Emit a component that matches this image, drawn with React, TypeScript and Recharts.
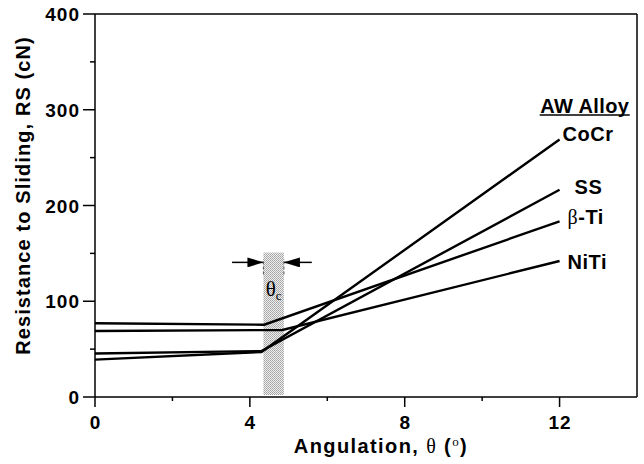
import React from "react";
import {
  LineChart,
  Line,
  XAxis,
  YAxis,
  ReferenceArea,
  ReferenceLine,
  ReferenceDot,
} from "recharts";

// angulation (deg) and resistance to sliding (cN) for each archwire alloy
const alloyNames = ["CoCr", "SS", "β-Ti", "NiTi"];
const coCrAngle = [0, 4.3, 12];
const coCrRS = [39, 47, 269];
const ssAngle = [0, 4.3, 12];
const ssRS = [45.5, 48, 216.5];
const betaTiAngle = [0, 4.37, 12];
const betaTiRS = [77, 75.5, 183.5];
const niTiAngle = [0, 4.84, 12];
const niTiRS = [69, 70, 142];

// critical angle band
const thetaCLow = 4.35;
const thetaCHigh = 4.88;
const bandTop = 151;

const xTicks = [0, 2, 4, 6, 8, 10, 12];
const xLabelled = [0, 4, 8, 12];
const yTicks = [0, 50, 100, 150, 200, 250, 300, 350, 400];
const yLabelled = [0, 100, 200, 300, 400];

const FONT = '"Liberation Sans", Arial, Helvetica, sans-serif';
const SERIF = '"Liberation Serif", "DejaVu Serif", serif';

const toPoints = (xs: number[], ys: number[]) =>
  xs.map((a, i) => ({ angle: a, rs: ys[i] }));

const series = [
  { name: alloyNames[0], data: toPoints(coCrAngle, coCrRS), dx: 3, dy: -5 },
  { name: alloyNames[1], data: toPoints(ssAngle, ssRS), dx: 15, dy: -3 },
  { name: alloyNames[2], data: toPoints(betaTiAngle, betaTiRS), dx: 8, dy: -4 },
  { name: alloyNames[3], data: toPoints(niTiAngle, niTiRS), dx: 8, dy: 1 },
];

const YTick = (props: any) => {
  const { x, y, payload } = props;
  const major = yLabelled.includes(payload.value);
  return (
    <g>
      <line x1={x} x2={x - (major ? 12 : 5)} y1={y} y2={y} stroke="#000" strokeWidth={1.5} />
      {major && (
        <text x={x - 15} y={y + 7} textAnchor="end" fontFamily={FONT} fontWeight="bold" fontSize={19} letterSpacing={1} fill="#000">
          {payload.value}
        </text>
      )}
    </g>
  );
};

const XTick = (props: any) => {
  const { x, y, payload } = props;
  const major = xLabelled.includes(payload.value);
  return (
    <g>
      <line x1={x} x2={x} y1={y} y2={y + (major ? 10 : 4)} stroke="#000" strokeWidth={1.5} />
      {major && (
        <text x={x + 0.5} y={y + 32} textAnchor="middle" fontFamily={FONT} fontWeight="bold" fontSize={19} letterSpacing={1} fill="#000">
          {payload.value}
        </text>
      )}
    </g>
  );
};

const alloyLabel = (name: string, dx: number, dy: number) => (props: any) => {
  const { viewBox } = props;
  const x = viewBox.x + dx;
  const y = viewBox.y + dy + 7;
  if (name === "β-Ti") {
    return (
      <text x={x} y={y} fontFamily={FONT} fontWeight="bold" fontSize={20} letterSpacing={0.5} fill="#000">
        <tspan fontFamily={SERIF} fontWeight="normal">β</tspan>-Ti
      </text>
    );
  }
  return (
    <text x={x} y={y} fontFamily={FONT} fontWeight="bold" fontSize={20} letterSpacing={0.5} fill="#000">
      {name}
    </text>
  );
};

const headingLabel = (props: any) => {
  const { viewBox } = props;
  const cx = viewBox.x;
  const cy = viewBox.y;
  return (
    <g>
      <text x={cx} y={cy + 6} textAnchor="middle" fontFamily={FONT} fontWeight="bold" fontSize={20} letterSpacing={0.4} fill="#000">
        AW Alloy
      </text>
      <line x1={cx - 45} x2={cx + 45} y1={cy + 8} y2={cy + 8} stroke="#000" strokeWidth={1.5} />
    </g>
  );
};

const thetaCLabel = (props: any) => {
  const { viewBox } = props;
  return (
    <text x={viewBox.x} y={viewBox.y + 6} textAnchor="middle" fontFamily={SERIF} fontSize={21} fill="#000">
      θ<tspan fontSize={13} dy={4}>c</tspan>
    </text>
  );
};

const yTitle = (props: any) => {
  const { viewBox } = props;
  const x = viewBox.x + 30;
  const y = viewBox.y + viewBox.height / 2 - 10;
  return (
    <text x={x} y={y} transform={`rotate(-90, ${x}, ${y})`} textAnchor="middle" fontFamily={FONT} fontWeight="bold" fontSize={20} letterSpacing={1.1} fill="#000">
      Resistance to Sliding, RS (cN)
    </text>
  );
};

const xTitle = (props: any) => {
  const { viewBox } = props;
  const x = viewBox.x + viewBox.width / 2 + 15;
  const y = viewBox.y + 56;
  return (
    <text x={x} y={y} textAnchor="middle" fontFamily={FONT} fontWeight="bold" fontSize={20} letterSpacing={1.4} fill="#000">
      Angulation, <tspan fontFamily={SERIF} fontWeight="normal">θ</tspan> (<tspan fontFamily={SERIF} fontWeight="normal" fontSize={13} dy={-7}>o</tspan><tspan dy={7}>)</tspan>
    </text>
  );
};

export default function App() {
  return (
    <div style={{ position: "absolute", left: 0, top: 0, background: "#fff" }}>
      <LineChart width={644} height={464} margin={{ top: 14, right: 7, bottom: 0, left: 0 }}>
        <defs>
          <pattern id="stipple" width={2} height={2} patternUnits="userSpaceOnUse">
            <rect width={2} height={2} fill="#ededed" />
            <rect x={0} y={0} width={1} height={1} fill="#a4a4a4" />
            <rect x={1} y={1} width={1} height={1} fill="#b0b0b0" />
          </pattern>
          <marker id="arrowHead" viewBox="0 0 16 10" refX={16} refY={5} markerWidth={16} markerHeight={10} markerUnits="userSpaceOnUse" orient="auto">
            <path d="M0,0 L16,5 L0,10 z" fill="#000" />
          </marker>
        </defs>
        <XAxis
          type="number"
          dataKey="angle"
          domain={[0, 14]}
          ticks={xTicks}
          allowDuplicatedCategory={false}
          height={67}
          tickSize={0}
          tickMargin={0}
          tickLine={false}
          tick={<XTick />}
          axisLine={{ stroke: "#000", strokeWidth: 1.5 }}
          label={{ content: xTitle }}
        />
        <YAxis
          type="number"
          dataKey="rs"
          domain={[0, 400]}
          ticks={yTicks}
          width={95}
          tickSize={0}
          tickMargin={0}
          tickLine={false}
          tick={<YTick />}
          axisLine={{ stroke: "#000", strokeWidth: 1.5 }}
          label={{ content: yTitle }}
        />
        <ReferenceArea x1={thetaCLow} x2={thetaCHigh} y1={2} y2={bandTop} fill="url(#stipple)" fillOpacity={1} stroke="none" />
        <ReferenceLine y={400} stroke="#000" strokeWidth={1.5} />
        <ReferenceLine x={14} stroke="#000" strokeWidth={1.5} />
        <ReferenceLine
          segment={[{ x: 3.54, y: 140.6 }, { x: thetaCLow, y: 140.6 }]}
          stroke="#000"
          strokeWidth={1.5}
          markerEnd="url(#arrowHead)"
        />
        <ReferenceLine
          segment={[{ x: 5.6, y: 140.6 }, { x: thetaCHigh, y: 140.6 }]}
          stroke="#000"
          strokeWidth={1.5}
          markerEnd="url(#arrowHead)"
        />
        <ReferenceLine segment={[{ x: thetaCLow, y: 128 }, { x: thetaCLow, y: 144 }]} stroke="#555" strokeWidth={1} strokeDasharray="3 2" />
        <ReferenceLine segment={[{ x: thetaCHigh, y: 128 }, { x: thetaCHigh, y: 144 }]} stroke="#555" strokeWidth={1} strokeDasharray="3 2" />
        <ReferenceDot x={(thetaCLow + thetaCHigh) / 2} y={112} r={0} stroke="none" fill="none" label={{ content: thetaCLabel }} />
        {series.map((s) => (
          <Line
            key={s.name}
            data={s.data}
            dataKey="rs"
            type="linear"
            stroke="#000"
            strokeWidth={2.4}
            dot={false}
            activeDot={false}
            isAnimationActive={false}
          />
        ))}
        {series.map((s) => {
          const last = s.data[s.data.length - 1];
          return (
            <ReferenceDot
              key={`lbl-${s.name}`}
              x={last.angle}
              y={last.rs}
              r={0}
              stroke="none"
              fill="none"
              label={{ content: alloyLabel(s.name, s.dx, s.dy) }}
            />
          );
        })}
        <ReferenceDot x={12.65} y={303} r={0} stroke="none" fill="none" label={{ content: headingLabel }} />
      </LineChart>
    </div>
  );
}
